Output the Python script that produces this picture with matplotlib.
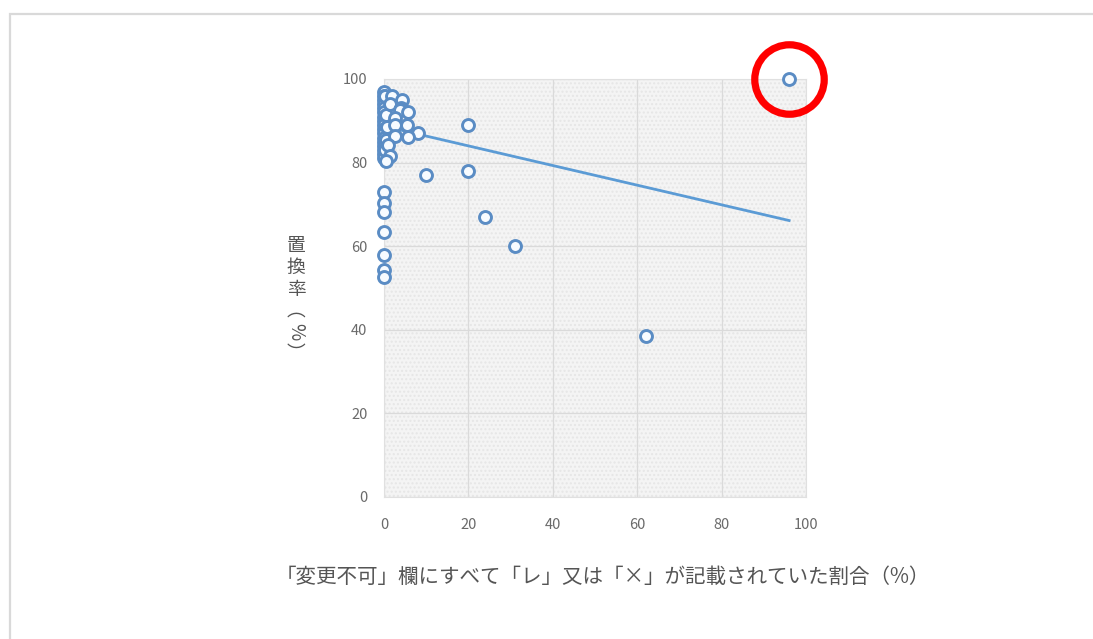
import numpy as np
import matplotlib
matplotlib.use('Agg')
import matplotlib.pyplot as plt
from matplotlib.patches import Rectangle

plt.rcParams['font.family'] = ['Noto Sans CJK JP', 'DejaVu Sans']

# share of "変更不可" rows fully marked (%) vs. substitution rate (%)
ratio_x = [0, 0, 0, 0, 0, 0, 0, 0, 0, 0, 0, 0, 0, 0, 0, 0, 0,
           0.4, 0.6, 0.5, 0.3,
           0.3, 1.9, 4.3, 1.4, 4.0, 3.8, 5.7, 2.6, 5.5, 2.6, 8.0, 2.6, 5.6,
           1.0, 1.4, 0.5, 10, 20, 20, 24, 31, 62, 96,
           0, 0, 0, 0, 0, 0, 0]
rate_y = [97, 96, 95, 94, 93, 92, 91, 90, 89, 88, 87, 86, 85, 84, 83, 82, 81,
          91.5, 88.5, 85.5, 83,
          96, 96, 95, 94, 93, 92.5, 92, 90.7, 89, 89, 87, 86.4, 86.2,
          84.2, 81.6, 80.3, 77, 89, 78, 67, 60, 38.5, 100,
          73, 70.3, 68.2, 63.4, 58, 54.3, 52.6]

# linear trend line
trend_intercept = 88.7
trend_slope = -0.235

# highlighted point
highlight = (96, 100)

xticks = [0, 20, 40, 60, 80, 100]
yticks = [0, 20, 40, 60, 80, 100]

fig = plt.figure(figsize=(10.93, 6.39), dpi=100)
fig.patch.set_facecolor('white')

# outer chart frame
fig.patches.append(Rectangle((10 / 1093, -0.05), 1.1, 1 - 14 / 639 + 0.05,
                             transform=fig.transFigure, fill=False,
                             edgecolor='#d9d9d9', linewidth=1.6))

ax = fig.add_axes([384 / 1093, 142 / 639, 422 / 1093, 418 / 639])
ax.set_facecolor('#f4f4f4')
ax.set_xlim(0, 100)
ax.set_ylim(0, 100)
ax.set_xticks(xticks)
ax.set_yticks(yticks)
ax.grid(True, color='#dadada', linewidth=0.9)
ax.set_axisbelow(True)
for s in ax.spines.values():
    s.set_color('#e0e0e0')
    s.set_linewidth(0.8)
ax.tick_params(length=0, colors='#6a6a6a', labelsize=10.5)
ax.tick_params(axis='x', pad=15)
ax.tick_params(axis='y', pad=12)

# dotted panel texture
ax.add_patch(Rectangle((0, 0), 100, 100, facecolor='none', edgecolor='#e6e6e6',
                       hatch='....', linewidth=0, zorder=0.5))

xs = np.array([min(ratio_x), max(ratio_x)])
ax.plot(xs, trend_intercept + trend_slope * xs, color='#5b9bd5', linewidth=2.0, zorder=3)

ax.plot(ratio_x, rate_y, linestyle='none', marker='o', markersize=8.6,
        markerfacecolor='#f7fbff', markeredgecolor='#5a8cc4', markeredgewidth=2.1,
        clip_on=False, zorder=4)

ax.plot([highlight[0]], [highlight[1]], linestyle='none', marker='o', markersize=50,
        markerfacecolor='none', markeredgecolor='#ff0000', markeredgewidth=5.2,
        clip_on=False, zorder=5)

fig.text(603 / 1093, 1 - 577 / 639, '「変更不可」欄にすべて「レ」又は「×」が記載されていた割合（%）',
         ha='center', va='center', fontsize=14.8, color='#555555')

# vertical y label: kanji upright, vertical-form brackets, percent sign turned
ylabel_chars = [('置', 0), ('換', 0), ('率', 0), ('\ufe35', 0), ('%', -90), ('\ufe36', 0)]
for i, (ch, rot) in enumerate(ylabel_chars):
    fig.text(296 / 1093, 1 - (246 + 21.5 * i) / 639, ch, ha='center', va='center',
             rotation=rot, fontsize=13.5, color='#555555')

fig.savefig('out.png', dpi=100)
